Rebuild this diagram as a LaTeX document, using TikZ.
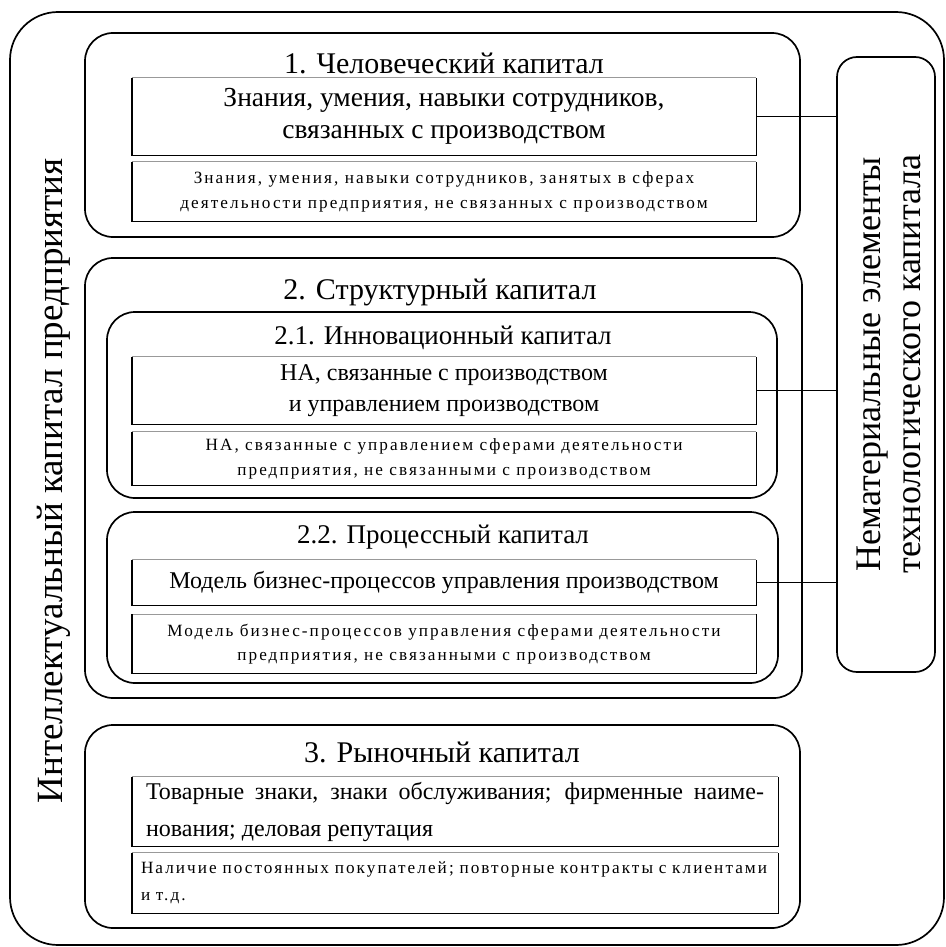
\documentclass[tikz,border=0pt]{standalone}
\usepackage{fontspec}
\setmainfont{Liberation Serif}
\newfontfamily\smallfam[LetterSpace=12]{Liberation Serif}
\begin{document}
\begin{tikzpicture}[x=1pt,y=-1pt,
  cont/.style={draw, line width=1.7pt, rounded corners=28pt, inner sep=0pt},
  outerbox/.style={draw, line width=1.7pt, rounded corners=48pt, inner sep=0pt},
  sidebox/.style={draw, line width=1.7pt, rounded corners=20pt, inner sep=0pt},
  rbox/.style={inner sep=0pt, align=center},
  bigtxt/.style={font=\fontsize{27.5}{32}\selectfont},
  midtxt/.style={font=\fontsize{24}{31}\selectfont},
  smalltxt/.style={font=\smallfam\fontsize{17.2}{25}\selectfont},
  titletxt/.style={font=\fontsize{30}{34}\selectfont, inner sep=0pt},
  subtitletxt/.style={font=\fontsize{27}{32}\selectfont, inner sep=0pt},
  dkline/.style={line width=1.4pt, black},
  ltline/.style={line width=0.8pt, black!40},
  conn/.style={line width=1.6pt}
]
\newcommand\boxedges[1]{%
  \draw[ltline] (#1.north west) -- (#1.north east);
  \draw[dkline] (#1.north west) -- (#1.south west) -- (#1.south east) -- (#1.north east);}
\useasboundingbox (0,0) rectangle (945,947);

% outer container
\node[outerbox, minimum width=934, minimum height=933] (outer) at (477,478.5) {};
\node[rotate=90, font=\fontsize{37}{44}\selectfont, inner sep=0pt] (ltitle) at (54,481) {Интеллектуальный капитал предприятия};

% right box
\node[sidebox, minimum width=98, minimum height=615] (side) at (886,364.5) {};
\node[rotate=90, align=center, font=\fontsize{36}{40}\selectfont, inner sep=0pt] (sidetxt) at (889,364) {Нематериальные элементы\\технологического капитала};

% 1
\node[cont, minimum width=715, minimum height=204] (c1) at (442.5,135) {};
\node[titletxt] (t1) at (444,63) {1. Человеческий капитал};
\node[rbox, bigtxt, minimum width=624, minimum height=77] (r1a) at (444,116.5) {Знания, умения, навыки сотрудников,\\связанных с производством};
\node[rbox, smalltxt, minimum width=624, minimum height=59] (r1b) at (444,191.5) {Знания, умения, навыки сотрудников, занятых в сферах\\деятельности предприятия, не связанных с производством};
\boxedges{r1a}\boxedges{r1b}

% 2
\node[cont, minimum width=717, minimum height=440] (c2) at (443.5,478) {};
\node[titletxt] (t2) at (440,292) {2. Структурный капитал};
\node[cont, minimum width=670, minimum height=186] (c21) at (442,405) {};
\node[subtitletxt] (t21) at (443,338) {2.1. Инновационный капитал};
\node[rbox, midtxt, minimum width=624, minimum height=67] (r21a) at (444,390.5) {НА, связанные с производством\\и управлением производством};
\node[rbox, smalltxt, minimum width=624, minimum height=53] (r21b) at (444,458.5) {НА, связанные с управлением сферами деятельности\\предприятия, не связанными с производством};
\boxedges{r21a}\boxedges{r21b}
\node[cont, minimum width=671, minimum height=171] (c22) at (442.5,597.5) {};
\node[subtitletxt] (t22) at (443,537) {2.2. Процессный капитал};
\node[rbox, midtxt, minimum width=624, minimum height=45] (r22a) at (444,582.5) {Модель бизнес-процессов управления производством};
\node[rbox, font=\smallfam\fontsize{17.2}{24}\selectfont, minimum width=624, minimum height=59] (r22b) at (444,644) {Модель бизнес-процессов управления сферами деятельности\\предприятия, не связанными с производством};
\boxedges{r22a}\boxedges{r22b}

% 3
\node[cont, minimum width=715, minimum height=203] (c3) at (442.5,826.5) {};
\node[titletxt] (t3) at (442,752) {3. Рыночный капитал};
\node[inner sep=0pt, minimum width=646, minimum height=69] (r3a) at (455,811.5) {};
\node[inner sep=0pt, text width=618, align=justify, font=\fontsize{24}{37}\selectfont] (r3atxt) at (r3a.center) {Товарные знаки, знаки обслуживания; фирменные наиме-\linebreak нования; деловая репутация};
\node[inner sep=0pt, minimum width=646, minimum height=60] (r3b) at (455,883) {};
\node[inner sep=0pt, text width=628, align=left, font=\smallfam\fontsize{17.2}{27}\selectfont] (r3btxt) at (r3b.center) {Наличие постоянных покупателей; повторные контракты с клиентами\\и т.д.};
\boxedges{r3a}\boxedges{r3b}

% connectors
\draw[conn] (r1a.east) -- (r1a.east -| side.west);
\draw[conn] (r21a.east) -- (r21a.east -| side.west);
\draw[conn] (r22a.east) -- (r22a.east -| side.west);
\end{tikzpicture}
\end{document}
